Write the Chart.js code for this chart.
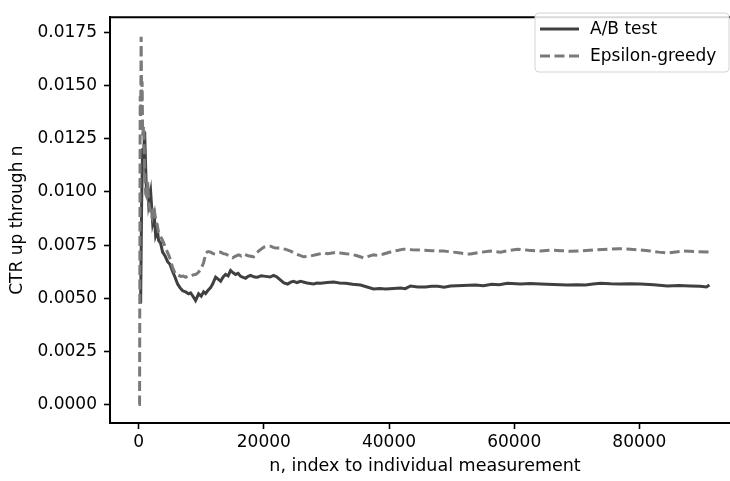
<!DOCTYPE html>
<html>
<head>
<meta charset="utf-8">
<script src="https://cdn.jsdelivr.net/npm/chart.js@4/dist/chart.umd.min.js"></script>
<style>
  html, body { margin: 0; padding: 0; background: #fff; overflow: hidden; }
  #wrap { width: 742px; height: 481px; }
</style>
</head>
<body>
<div id="wrap"><canvas id="chart" width="742" height="481"></canvas></div>
<script>
// Running click-through rate, sampled along the measurement index n
const abN = [320, 480, 640, 800, 960, 1120, 1280, 1440, 1600, 1920, 2240, 2500, 2715, 3000, 3190, 3500, 3830, 4200, 4630, 5000, 5430, 5800, 6230, 6600, 7030, 7500, 7985, 8300, 8625, 9100, 9580, 10000, 10380, 10700, 11020, 11500, 11820, 12300, 12700, 13100, 13500, 13890, 14300, 14690, 15100, 15490, 15900, 16290, 16700, 17090, 17500, 17890, 18500, 19000, 19600, 20280, 21000, 21560, 22100, 22680, 23200, 23800, 24300, 24750, 25300, 25870, 26900, 27950, 28500, 29070, 30100, 31140, 32100, 33060, 34200, 35450, 36500, 37530, 38500, 39450, 40700, 41840, 42600, 43440, 44600, 45830, 46800, 47800, 48800, 49830, 51800, 53820, 55100, 56400, 57600, 58930, 61000, 62600, 64200, 66300, 68510, 70000, 71390, 72600, 73780, 75400, 76980, 78500, 80170, 82300, 84480, 86300, 88150, 89700, 90710, 91190];
const abCtr = [0.00475, 0.0095, 0.01206, 0.0118, 0.01284, 0.01115, 0.00978, 0.0104, 0.00946, 0.01001, 0.00855, 0.0089, 0.00795, 0.0082, 0.00772, 0.0076, 0.00717, 0.0070, 0.00672, 0.0066, 0.00626, 0.0060, 0.00567, 0.0055, 0.00535, 0.0053, 0.00521, 0.00525, 0.00512, 0.00489, 0.00521, 0.0051, 0.0053, 0.00522, 0.00535, 0.0055, 0.00567, 0.00599, 0.0059, 0.0058, 0.0060, 0.00612, 0.00605, 0.00631, 0.0062, 0.00612, 0.00617, 0.00603, 0.00598, 0.00594, 0.00603, 0.00608, 0.0060, 0.00599, 0.00606, 0.00603, 0.0060, 0.00608, 0.0060, 0.00585, 0.00572, 0.00567, 0.00576, 0.0058, 0.00574, 0.0058, 0.00572, 0.00567, 0.00572, 0.00571, 0.00574, 0.00576, 0.00572, 0.00571, 0.00566, 0.00562, 0.00553, 0.00544, 0.00546, 0.00544, 0.00546, 0.00548, 0.00545, 0.00558, 0.00553, 0.00553, 0.00557, 0.00556, 0.00552, 0.00558, 0.0056, 0.00562, 0.00559, 0.00566, 0.00564, 0.00571, 0.00567, 0.00569, 0.00567, 0.00565, 0.00562, 0.00564, 0.00562, 0.00567, 0.00571, 0.00568, 0.00567, 0.00568, 0.00567, 0.00563, 0.00558, 0.0056, 0.00558, 0.00556, 0.00553, 0.00562];

const epsN = [0, 150, 250, 330, 400, 480, 560, 640, 800, 960, 1120, 1280, 1440, 1600, 1920, 2150, 2400, 2715, 3000, 3190, 3500, 3830, 4310, 4790, 5100, 5430, 5910, 6300, 6710, 7100, 7510, 7900, 8300, 8700, 9100, 9500, 9900, 10380, 10550, 10700, 11100, 11500, 11900, 12300, 12700, 13100, 13500, 13890, 14400, 15010, 15500, 15970, 16400, 16770, 17500, 18370, 18800, 19160, 19960, 20500, 21080, 21500, 21880, 22680, 23500, 24270, 25000, 25550, 26350, 27470, 28500, 29540, 30200, 30900, 31600, 32260, 33100, 33860, 34900, 35930, 36700, 37530, 38300, 39130, 40720, 41500, 42320, 43700, 45040, 46900, 48710, 50000, 51420, 52200, 53020, 54600, 56210, 57810, 59200, 60530, 62300, 64200, 65800, 67400, 69000, 70590, 72700, 74900, 76700, 78570, 80200, 81770, 83100, 84480, 85800, 87030, 89000, 91190];
const epsCtr = [0, 0, 0.0145, 0.0135, 0.0173, 0.0142, 0.0152, 0.01266, 0.0131, 0.01115, 0.00992, 0.0098, 0.01047, 0.0095, 0.0090, 0.0088, 0.00932, 0.00873, 0.0084, 0.00809, 0.0079, 0.00772, 0.00736, 0.00704, 0.0068, 0.00644, 0.00612, 0.0061, 0.00603, 0.00605, 0.00599, 0.00605, 0.00603, 0.0061, 0.00612, 0.0062, 0.00635, 0.00667, 0.0069, 0.00713, 0.0072, 0.00717, 0.0071, 0.00708, 0.00714, 0.00717, 0.0071, 0.00708, 0.0070, 0.0069, 0.00698, 0.00704, 0.00699, 0.00708, 0.0070, 0.00695, 0.0071, 0.00722, 0.0074, 0.00745, 0.00745, 0.00739, 0.00736, 0.00736, 0.0073, 0.00722, 0.0071, 0.00704, 0.00695, 0.00699, 0.00706, 0.00713, 0.00709, 0.00713, 0.00717, 0.00713, 0.00709, 0.00708, 0.0070, 0.0069, 0.00697, 0.00704, 0.00701, 0.00708, 0.00722, 0.00726, 0.00731, 0.00728, 0.00727, 0.00724, 0.00722, 0.00718, 0.00713, 0.00709, 0.00708, 0.00716, 0.00722, 0.00717, 0.00725, 0.00731, 0.00726, 0.00722, 0.00726, 0.00724, 0.00721, 0.00722, 0.00727, 0.00731, 0.00733, 0.00731, 0.00727, 0.00722, 0.00717, 0.00713, 0.00718, 0.00722, 0.00719, 0.00717];

const seriesNames = ['A/B test', 'Epsilon-greedy'];
const xTickValues = [0, 20000, 40000, 60000, 80000];
const yTickValues = [0.0, 0.0025, 0.005, 0.0075, 0.01, 0.0125, 0.015, 0.0175];

const FONT = "'DejaVu Sans', sans-serif";
const FONT_SIZE = 17;
const AB_COLOR = '#404040';
const EPS_COLOR = '#7a7a7a';
const EPS_DASH = [10, 4.5];

const toPoints = (xs, ys) => xs.map((x, i) => ({ x: x, y: ys[i] }));

// top spine
const frameTop = {
  id: 'frameTop',
  afterDraw(chart) {
    const { ctx, chartArea: a } = chart;
    ctx.save();
    ctx.strokeStyle = '#000';
    ctx.lineWidth = 2;
    ctx.beginPath();
    ctx.moveTo(a.left - 1, a.top);
    ctx.lineTo(a.right + 1, a.top);
    ctx.stroke();
    ctx.restore();
  }
};

// legend box in the upper right of the plot
const innerLegend = {
  id: 'innerLegend',
  afterDraw(chart) {
    const { ctx } = chart;
    const x0 = 535, y0 = 13, w = 194, h = 59, r = 4;
    ctx.save();
    ctx.beginPath();
    ctx.moveTo(x0 + r, y0);
    ctx.lineTo(x0 + w - r, y0);
    ctx.arcTo(x0 + w, y0, x0 + w, y0 + r, r);
    ctx.lineTo(x0 + w, y0 + h - r);
    ctx.arcTo(x0 + w, y0 + h, x0 + w - r, y0 + h, r);
    ctx.lineTo(x0 + r, y0 + h);
    ctx.arcTo(x0, y0 + h, x0, y0 + h - r, r);
    ctx.lineTo(x0, y0 + r);
    ctx.arcTo(x0, y0, x0 + r, y0, r);
    ctx.closePath();
    ctx.fillStyle = 'rgba(255,255,255,0.85)';
    ctx.fill();
    ctx.strokeStyle = '#d4d4d4';
    ctx.lineWidth = 1;
    ctx.stroke();

    const rows = [29, 56];
    chart.data.datasets.forEach((ds, i) => {
      const y = rows[i];
      ctx.beginPath();
      ctx.setLineDash(ds.borderDash || []);
      ctx.strokeStyle = ds.borderColor;
      ctx.lineWidth = ds.borderWidth;
      ctx.moveTo(540, y);
      ctx.lineTo(579, y);
      ctx.stroke();
      ctx.setLineDash([]);
      ctx.fillStyle = '#000';
      ctx.font = FONT_SIZE + 'px ' + FONT;
      ctx.textBaseline = 'middle';
      ctx.textAlign = 'left';
      ctx.fillText(ds.label, 590, y + 1);
    });
    ctx.restore();
  }
};

new Chart(document.getElementById('chart'), {
  type: 'line',
  data: {
    datasets: [
      {
        label: seriesNames[0],
        data: toPoints(abN, abCtr),
        borderColor: AB_COLOR,
        borderWidth: 3,
        pointRadius: 0,
        tension: 0,
        order: 1
      },
      {
        label: seriesNames[1],
        data: toPoints(epsN, epsCtr),
        borderColor: EPS_COLOR,
        borderWidth: 3,
        borderDash: EPS_DASH,
        pointRadius: 0,
        tension: 0,
        order: 0
      }
    ]
  },
  options: {
    responsive: false,
    animation: false,
    layout: { padding: { top: 6, right: 2, left: 0, bottom: 0 } },
    plugins: {
      legend: { display: false },
      tooltip: { enabled: false }
    },
    scales: {
      x: {
        type: 'linear',
        min: -4575,
        max: 96075,
        afterBuildTicks(scale) { scale.ticks = xTickValues.map(v => ({ value: v })); },
        afterFit(scale) { scale.height = 58; },
        ticks: {
          color: '#000',
          font: { family: FONT, size: FONT_SIZE },
          padding: 3,
          maxRotation: 0,
          callback: v => String(v)
        },
        grid: { display: true, drawOnChartArea: false, drawTicks: true, tickLength: 6, tickWidth: 1.6, tickColor: '#000' },
        border: { display: true, color: '#000', width: 2 },
        title: {
          display: true,
          text: 'n, index to individual measurement',
          color: '#000',
          font: { family: FONT, size: 17.5 },
          padding: { top: 0, bottom: 4 }
        }
      },
      y: {
        type: 'linear',
        min: -0.000867,
        max: 0.01822,
        afterBuildTicks(scale) { scale.ticks = yTickValues.map(v => ({ value: v })); },
        afterFit(scale) { scale.width = 110; },
        ticks: {
          color: '#000',
          font: { family: FONT, size: FONT_SIZE },
          padding: 7,
          callback: v => Number(v).toFixed(4)
        },
        grid: { display: true, drawOnChartArea: false, drawTicks: true, tickLength: 6, tickWidth: 1.6, tickColor: '#000' },
        border: { display: true, color: '#000', width: 2 },
        title: {
          display: true,
          text: 'CTR up through n',
          color: '#000',
          font: { family: FONT, size: FONT_SIZE },
          padding: { top: 7, bottom: 0 }
        }
      }
    }
  },
  plugins: [frameTop, innerLegend]
});
</script>
</body>
</html>
